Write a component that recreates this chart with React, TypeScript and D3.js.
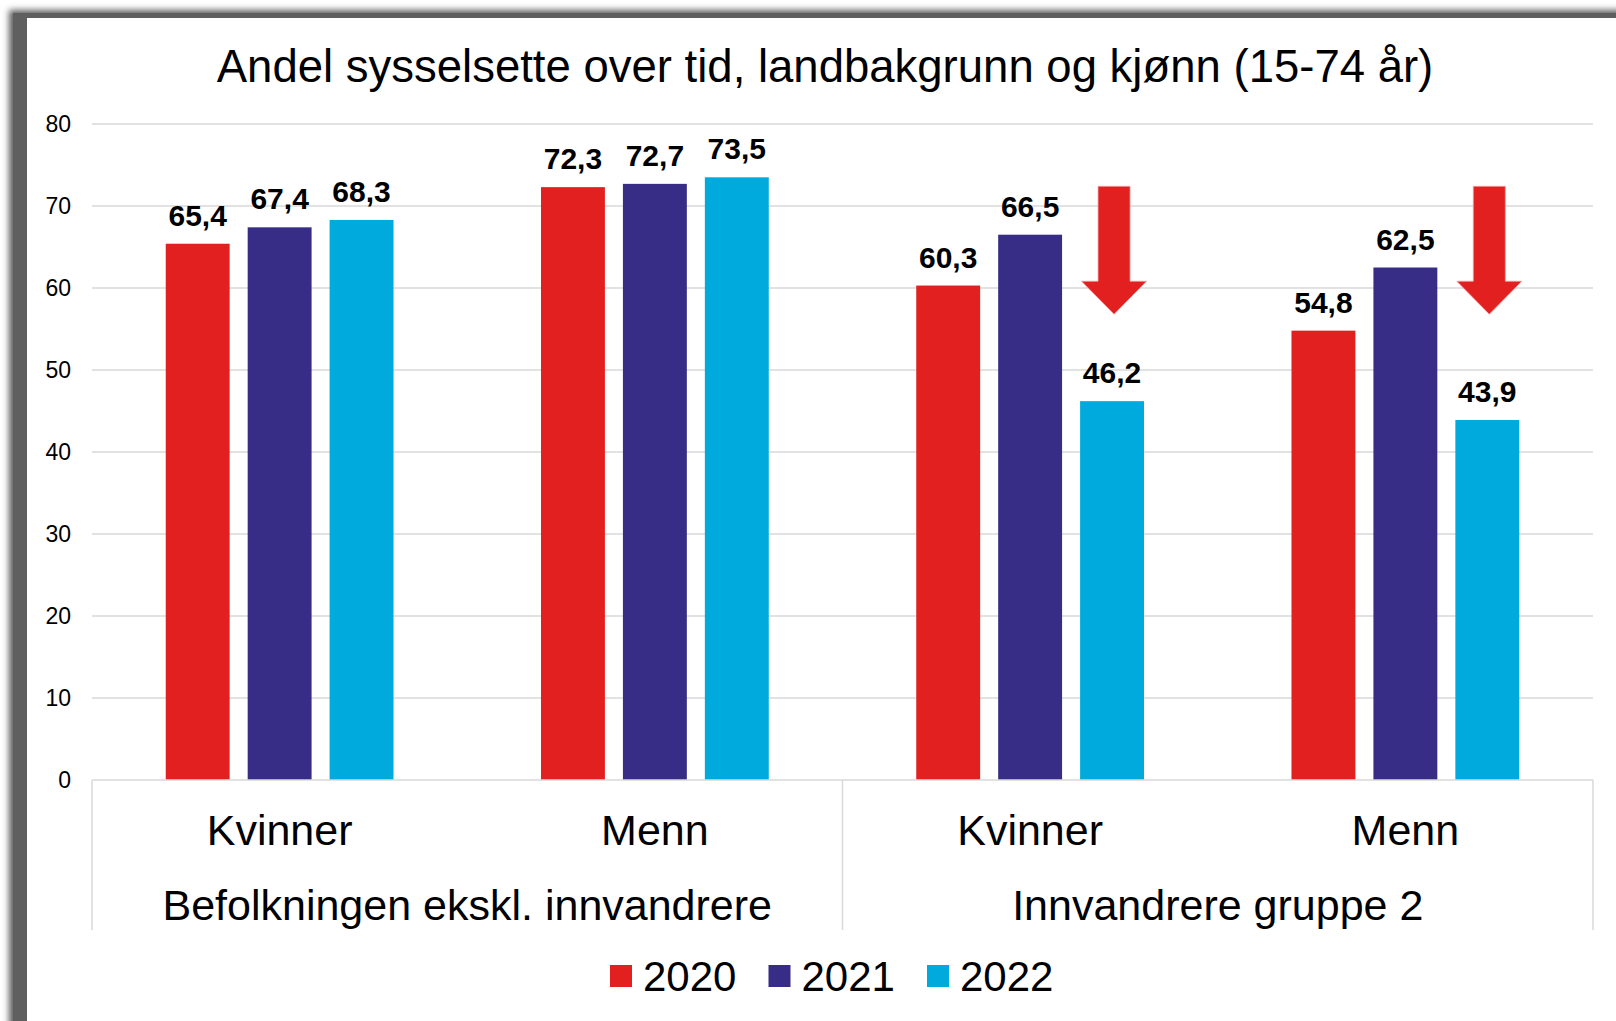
import React from "react";
import * as d3 from "d3";

const title = "Andel sysselsette over tid, landbakgrunn og kjønn (15-74 år)";
const categories = ["Kvinner", "Menn", "Kvinner ", "Menn "];
const categoryLabels = ["Kvinner", "Menn", "Kvinner", "Menn"];
const groups = ["Befolkningen ekskl. innvandrere", "Innvandrere gruppe 2"];
const series = ["2020", "2021", "2022"];
const values2020 = [65.4, 72.3, 60.3, 54.8];
const values2021 = [67.4, 72.7, 66.5, 62.5];
const values2022 = [68.3, 73.5, 46.2, 43.9];
const yTicks = [0, 10, 20, 30, 40, 50, 60, 70, 80];
const colors = ["#E1201F", "#372C86", "#00AADC"];
// annotation arrows: category index, from value, to value
const arrowCats = [2, 3];
const arrowFrom = 72.4;
const arrowTo = 56.8;

const W = 1616;
const H = 1021;

export default function App() {
  const seriesValues = [values2020, values2021, values2022];
  const y = d3.scaleLinear().domain([0, 80]).range([780, 124]);
  const x0 = d3.scaleBand<string>().domain(categories).range([92, 1593]).padding(0);
  const x1 = d3
    .scaleBand<string>()
    .domain(series)
    .range([0, x0.bandwidth()])
    .paddingInner(0.22)
    .paddingOuter(0.9);
  const groupScale = d3.scaleBand<string>().domain(groups).range([92, 1593]);
  const font = "'Liberation Sans', Arial, sans-serif";

  const shaftW = 32;
  const headW = 65;
  const headH = 33;

  return (
    <svg
      width={W}
      height={H}
      style={{ position: "absolute", left: 0, top: 0, display: "block" }}
      fontFamily={font}
    >
      <defs>
        <filter id="blur" x="-0.1" y="-0.1" width="1.2" height="1.2">
          <feGaussianBlur stdDeviation="3" />
        </filter>
      </defs>
      <rect x={0} y={0} width={W} height={H} fill="#fff" />
      <rect x={9} y={10} width={W + 100} height={H + 100} fill="#5f5f5f" filter="url(#blur)" />
      <rect x={13} y={13} width={W} height={H} fill="#5f5f5f" />
      <rect x={27} y={18} width={W} height={H} fill="#fff" />

      <text x={825} y={82} textAnchor="middle" fontSize={45.5} fill="#000">
        {title}
      </text>

      {yTicks.map((t) => (
        <g key={t}>
          {t > 0 && (
            <line x1={92} x2={1593} y1={y(t)} y2={y(t)} stroke="#d9d9d9" strokeWidth={1.5} />
          )}
          <text x={71} y={y(t) + 8} textAnchor="end" fontSize={23} fill="#000">
            {t}
          </text>
        </g>
      ))}

      {categories.map((c, ci) => (
        <g key={c} transform={`translate(${x0(c)},0)`}>
          {series.map((s, si) => {
            const v = seriesValues[si][ci];
            const bx = x1(s)!;
            return (
              <g key={s}>
                <rect x={bx} y={y(v)} width={x1.bandwidth()} height={y(0) - y(v)} fill={colors[si]} />
                <text
                  x={bx + x1.bandwidth() / 2}
                  y={y(v) - 18}
                  textAnchor="middle"
                  fontSize={30}
                  fontWeight="bold"
                  fill="#000"
                >
                  {String(v).replace(".", ",")}
                </text>
              </g>
            );
          })}
          <text x={x0.bandwidth() / 2} y={845} textAnchor="middle" fontSize={43} fill="#000">
            {categoryLabels[ci]}
          </text>
        </g>
      ))}

      {/* axis lines */}
      <line x1={92} x2={1593} y1={y(0)} y2={y(0)} stroke="#d9d9d9" strokeWidth={1.5} />
      {[92, 92 + groupScale.bandwidth(), 1593].map((xv) => (
        <line key={xv} x1={xv} x2={xv} y1={y(0)} y2={930} stroke="#d9d9d9" strokeWidth={1.5} />
      ))}
      {groups.map((g) => (
        <text
          key={g}
          x={groupScale(g)! + groupScale.bandwidth() / 2}
          y={920}
          textAnchor="middle"
          fontSize={43}
          fill="#000"
        >
          {g}
        </text>
      ))}

      {arrowCats.map((ci) => {
        const cx = x0(categories[ci])! + x1("2022")! + x1.bandwidth() / 2 + 2;
        const top = y(arrowFrom);
        const tip = y(arrowTo);
        const base = tip - headH;
        const pts = [
          [cx - shaftW / 2, top],
          [cx + shaftW / 2, top],
          [cx + shaftW / 2, base],
          [cx + headW / 2, base],
          [cx, tip],
          [cx - headW / 2, base],
          [cx - shaftW / 2, base],
        ];
        return (
          <polygon
            key={ci}
            points={pts.map((p) => p.join(",")).join(" ")}
            fill="#E1201F"
            stroke="#f2a0a0"
            strokeWidth={0.8}
          />
        );
      })}

      {series.map((s, si) => {
        const lx = 610 + si * 158.5;
        return (
          <g key={s}>
            <rect x={lx} y={965} width={22} height={22} fill={colors[si]} />
            <text x={lx + 33} y={991} fontSize={42} fill="#000">
              {s}
            </text>
          </g>
        );
      })}
    </svg>
  );
}
